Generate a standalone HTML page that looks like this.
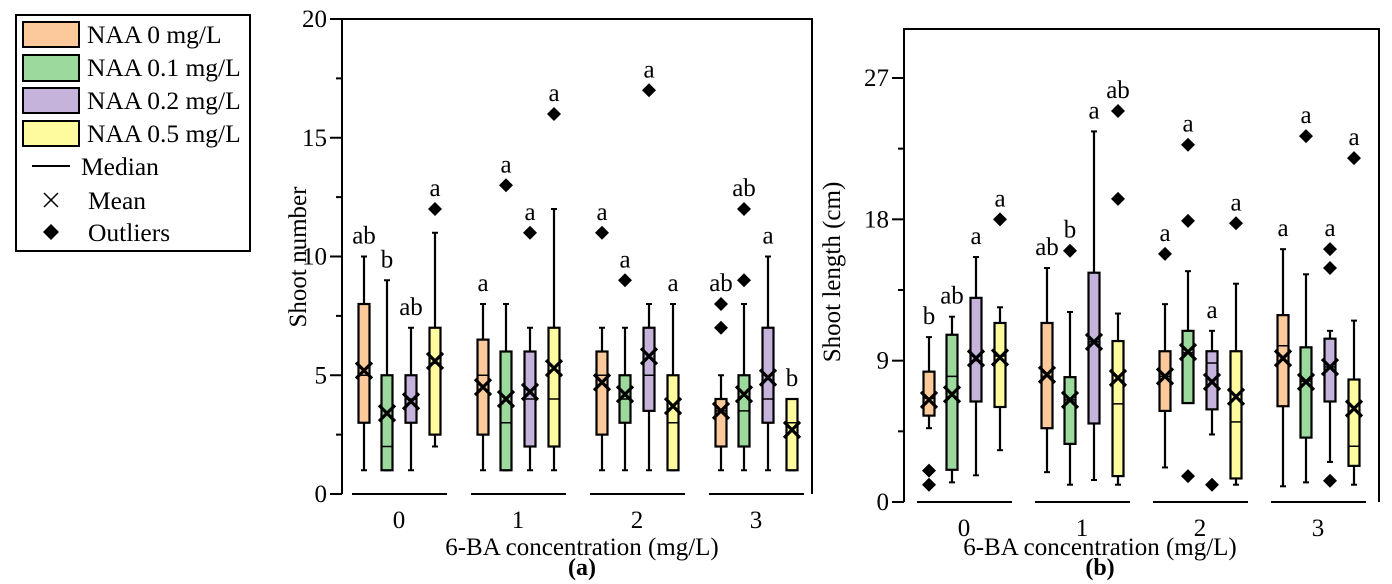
<!DOCTYPE html>
<html><head><meta charset="utf-8"><style>
html,body{margin:0;padding:0;background:#fff;}
svg, svg text{font-family:"Liberation Serif","DejaVu Serif","Times New Roman",serif;}
svg{display:block;}
</style></head><body>
<svg id="s" width="1392" height="584" viewBox="0 0 1392 584" font-family="Liberation Serif, DejaVu Serif, serif">
<g>
<rect x="16" y="15" width="234" height="236" fill="#fff" stroke="#000" stroke-width="2"/>
<rect x="23" y="22" width="56" height="25" fill="#fcc99a" stroke="#000" stroke-width="2"/>
<text x="87" y="43" font-size="25.5">NAA 0 mg/L</text>
<rect x="23" y="55" width="56" height="26" fill="#9bd99c" stroke="#000" stroke-width="2"/>
<text x="87" y="76" font-size="25.5">NAA 0.1 mg/L</text>
<rect x="23" y="88" width="56" height="25" fill="#c5b3dc" stroke="#000" stroke-width="2"/>
<text x="87" y="109" font-size="25.5">NAA 0.2 mg/L</text>
<rect x="23" y="121" width="56" height="25" fill="#fdfb9e" stroke="#000" stroke-width="2"/>
<text x="87" y="142" font-size="25.5">NAA 0.5 mg/L</text>
<line x1="32" y1="166" x2="70" y2="166" stroke="#000" stroke-width="2"/>
<text x="81" y="175" font-size="25.5">Median</text>
<path d="M44,193L58,207M44,207L58,193" stroke="#000" stroke-width="1.5"/>
<text x="88" y="209" font-size="25.5">Mean</text>
<polygon points="51,224 59,232 51,240 43,232" fill="#000"/>
<text x="88" y="241" font-size="25.5">Outliers</text>
</g>
</svg>
<script>
// Chart (a) data: [whiskerLow, q1, median, q3, whiskerHigh, mean]
const groups = ["0","1","2","3"];
const seriesNames = ["NAA 0 mg/L","NAA 0.1 mg/L","NAA 0.2 mg/L","NAA 0.5 mg/L"];
const aStats = [
 [[1,3,5,8,10,5.2],[1,1,2,5,9,3.4],[1,3,4,5,7,3.9],[2,2.5,5.5,7,11,5.6]],
 [[1,2.5,5,6.5,8,4.5],[1,1,3,6,8,4.0],[1,2,4,6,7,4.3],[1,2,4,7,12,5.3]],
 [[1,2.5,5,6,7,4.7],[1,3,4,5,7,4.2],[1,3.5,5,7,8,5.8],[1,1,3,5,8,3.7]],
 [[1,2,3.5,4,5,3.5],[1,2,3.5,5,8,4.2],[1,3,4,7,10,4.9],[1,1,3,4,4,2.7]]
];
const aOutliers = [[[],[],[],[12]],[[],[13],[11],[16]],[[11],[9],[17],[]],[[7,8],[9,12],[],[]]];
const aLetters = [["ab","b","ab","a"],["a","a","a","a"],["a","a","a","a"],["ab","ab","a","b"]];
const aTicks = [0,5,10,15,20];
// Chart (b) data
const bStats = [
 [[4.7,5.5,6.6,8.3,10.5,6.5],[1.25,2.05,8.0,10.65,11.8,6.85],[1.7,6.4,9.0,13.0,15.6,9.15],[3.3,6.05,9.3,11.4,12.4,9.2]],
 [[1.9,4.7,8.0,11.4,14.9,8.1],[1.1,3.7,6.5,7.95,12.1,6.5],[1.4,5.0,10.2,14.6,23.6,10.2],[1.1,1.65,6.25,10.25,12.0,7.9]],
 [[2.2,5.8,8.0,9.6,12.6,8.0],[6.3,6.3,9.5,10.9,14.7,9.55],[4.3,5.9,8.85,9.6,10.9,7.65],[1.1,1.5,5.1,9.6,13.9,6.7]],
 [[1.0,6.1,9.95,11.9,16.1,9.15],[1.25,4.1,7.7,9.85,14.5,7.65],[2.55,6.4,8.6,10.4,10.9,8.6],[1.1,2.3,3.55,7.8,11.55,5.95]]
];
const bOutliers = [[[2.0,1.1],[],[],[18.0]],[[],[16.0],[],[19.3,24.9]],[[15.8],[1.65,17.9,22.75],[1.1],[17.75]],[[],[23.3],[1.35,14.9,16.1],[21.9]]];
const bLetters = [["b","ab","a","a"],["ab","b","a","ab"],["a","a","a","a"],["a","a","a","a"]];
const bTicks = [0,9,18,27];

const colors = ["#fcc99a","#9bd99c","#c5b3dc","#fdfb9e"];
const NS="http://www.w3.org/2000/svg";
const svg=document.getElementById('s');
function el(t,a,p){const e=document.createElementNS(NS,t);for(const k in a)e.setAttribute(k,a[k]);(p||svg).appendChild(e);return e;}

function chart(cfg){
 const g=el('g',{});
 
 
 const y=v=>cfg.y0-(v-0)*(cfg.y0-cfg.yTop)/cfg.max;
 const gx=i=>cfg.g0+i*cfg.gs;
 const offs=[-35,-12,12,36];
 const fr=el('path',{d:`M${cfg.ax},${cfg.y0} V${cfg.top} H${cfg.right} V${cfg.y0}`,fill:'none',stroke:'#000','stroke-width':2},g);
 
 
 cfg.ticks.forEach((t,i)=>{
  el('line',{x1:cfg.ax-12,x2:cfg.ax,y1:y(t),y2:y(t),stroke:'#000','stroke-width':2},g);
  const tl=el('text',{x:cfg.ax-15,y:y(t)+8,'font-size':25,'text-anchor':'end'},g);
  tl.textContent=t;
  
  
  if(i<cfg.ticks.length-1){const m=(t+cfg.ticks[i+1])/2;el('line',{x1:cfg.ax-6,x2:cfg.ax,y1:y(m),y2:y(m),stroke:'#000','stroke-width':2},g);}
 });
 if(cfg.minorTop){const m=cfg.ticks[cfg.ticks.length-1]+(cfg.ticks[1]-cfg.ticks[0])/2; if(y(m)>cfg.top) el('line',{x1:cfg.ax-6,x2:cfg.ax,y1:y(m),y2:y(m),stroke:'#000','stroke-width':2},g);}
 groups.forEach((gn,gi)=>{
  const cx=gx(gi);
  el('line',{x1:cx-47,x2:cx+48,y1:cfg.y0,y2:cfg.y0,stroke:'#000','stroke-width':2},g);
  const xl=el('text',{x:cx,y:cfg.y0+34,'font-size':25,'text-anchor':'middle'},g);
  xl.textContent=gn;
  
  
  cfg.stats[gi].forEach((s,si)=>{
   const x=cx+offs[si];
   const b=el('g',{},g);
   
   
   el('line',{x1:x,x2:x,y1:y(s[0]),y2:y(s[4]),stroke:'#000','stroke-width':2.2},b);
   el('line',{x1:x-3,x2:x+3,y1:y(s[0]),y2:y(s[0]),stroke:'#000','stroke-width':2},b);
   el('line',{x1:x-3,x2:x+3,y1:y(s[4]),y2:y(s[4]),stroke:'#000','stroke-width':2},b);
   el('rect',{x:x-5.5,y:y(s[3]),width:11,height:Math.max(1,y(s[1])-y(s[3])),fill:colors[si],stroke:'#000','stroke-width':2.2},b);
   el('line',{x1:x-5,x2:x+5,y1:y(s[2]),y2:y(s[2]),stroke:'#000','stroke-width':1.5},b);
   const my=y(s[5]);
   el('path',{d:`M${x-8},${my-8}L${x+8},${my+8}M${x-8},${my+8}L${x+8},${my-8}`,stroke:'#000','stroke-width':3.2},b);
   let topV=s[4];
   cfg.out[gi][si].forEach(o=>{
    const oy=y(o);
    const d=el('polygon',{points:`${x},${oy-7} ${x+7},${oy} ${x},${oy+7} ${x-7},${oy}`,fill:'#000'},b);
    
    
    topV=Math.max(topV,o);
   });
   const lt=el('text',{x:x,y:y(topV)-13,'font-size':25,'text-anchor':'middle'},b);
   lt.textContent=cfg.letters[gi][si];
   
   
  });
 });
 const yt=el('text',{transform:`translate(${cfg.ytx},${cfg.yty}) rotate(-90)`,'font-size':25,'text-anchor':'middle'},g);
 yt.textContent=cfg.ytitle;
 
 
 const xt=el('text',{x:cfg.xtx,y:555,'font-size':25,'text-anchor':'middle'},g);
 xt.textContent='6-BA concentration (mg/L)';
 
 
 const pl=el('text',{x:cfg.xtx,y:575,'font-size':24,'font-weight':'bold','text-anchor':'middle'},g);
 pl.textContent=cfg.panel;
 
 
}
chart({name:'chart-shoot-number',y0:494,yTop:19,top:19,max:20,ax:342,right:812,g0:399,gs:119,ticks:aTicks,stats:aStats,out:aOutliers,letters:aLetters,ytitle:'Shoot number',ytx:306,yty:257,xtx:582,panel:'(a)'});
chart({name:'chart-shoot-length',y0:502,yTop:78,top:29,max:27,ax:904,right:1379,g0:964,gs:118,ticks:bTicks,stats:bStats,out:bOutliers,letters:bLetters,ytitle:'Shoot length (cm)',ytx:840,yty:272,xtx:1100,panel:'(b)',minorTop:true});
</script>
</body></html>
